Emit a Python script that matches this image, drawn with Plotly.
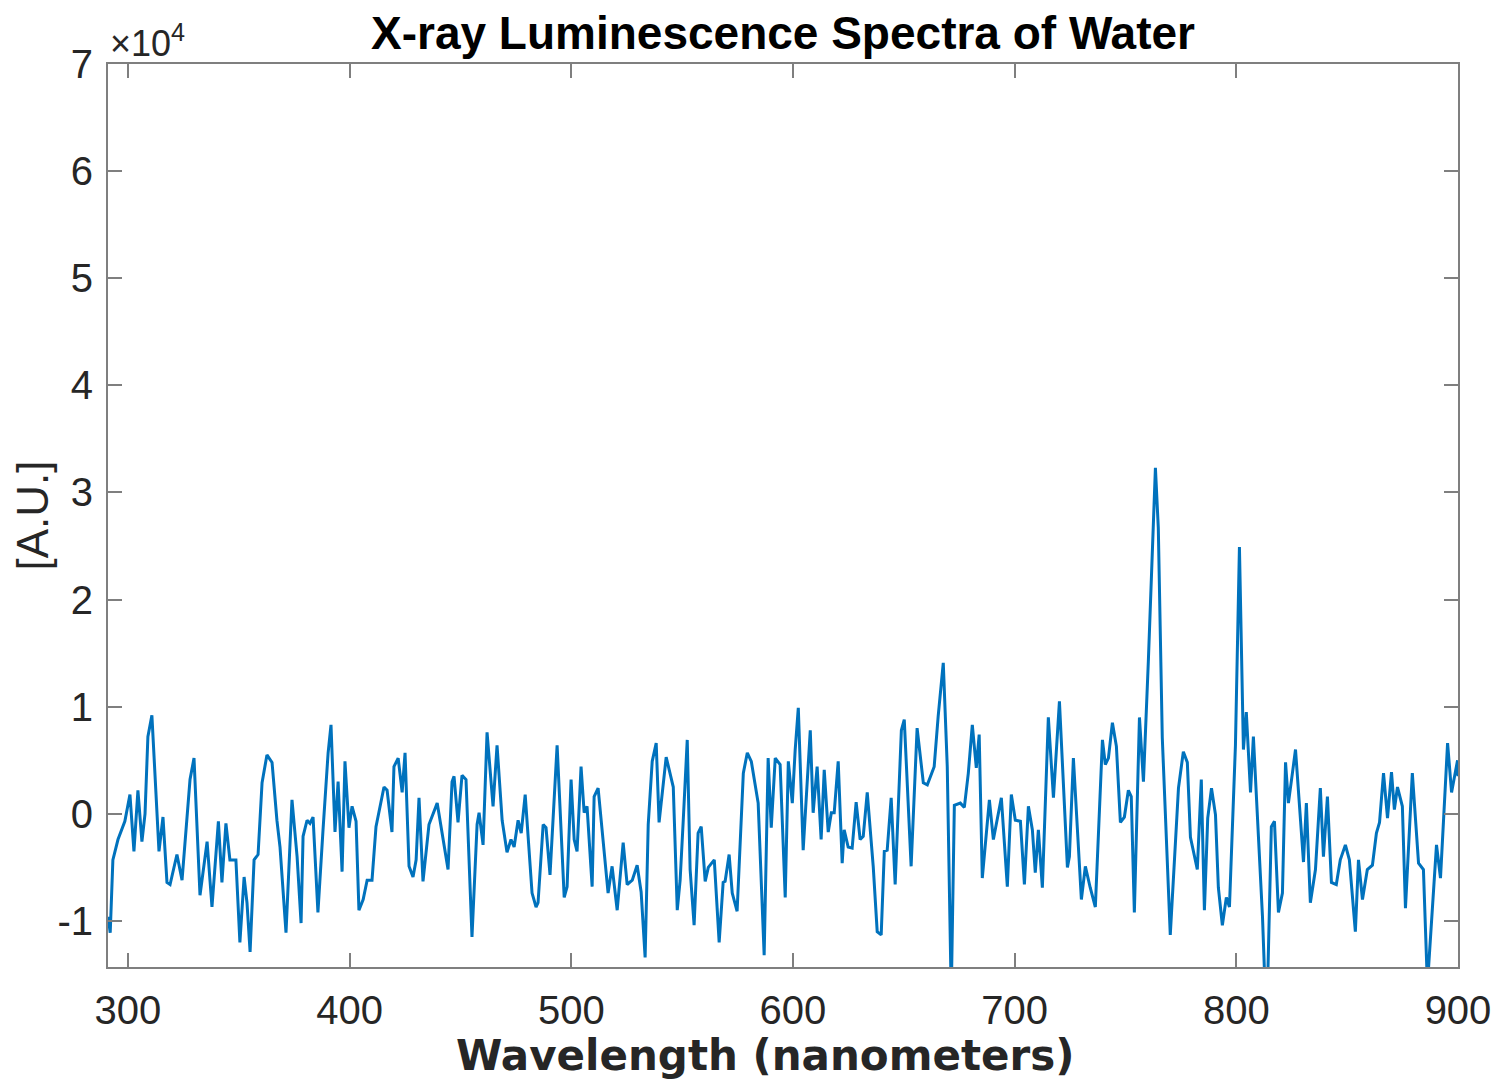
import plotly.graph_objects as go

# Wavelength (nm)
wavelength = [
    291, 292, 293.2, 295.5, 298.6, 300.9, 302.7, 304.5, 306.3, 307.7, 309.0, 310.8, 314.0, 315.8, 317.6, 319.0,
    322.1, 324.4, 328.0, 329.8, 332.5, 335.7, 337.9, 340.8, 342.4, 344.2, 346.0, 348.7, 350.5, 352.4, 353.7,
    355.1, 356.9, 358.7, 360.5, 362.7, 365.0, 367.2, 368.6, 371.3, 374.0, 376.3, 378.1, 379.0, 380.8, 382.1,
    383.5, 385.7, 388.0, 390.3, 391.6, 393.4, 394.8, 396.6, 397.9, 399.7, 401.1, 402.9, 404.2, 406.1, 407.9,
    410.1, 411.9, 415.5, 416.9, 419.1, 420.0, 421.9, 423.7, 425.0, 426.8, 428.6, 430.0, 431.3, 433.1, 435.8,
    439.5, 442.2, 444.4, 446.2, 447.1, 448.9, 450.7, 452.5, 455.2, 457.5, 458.4, 460.2, 462.0, 464.7, 466.5,
    468.8, 471.0, 472.8, 474.2, 476.0, 477.4, 479.2, 481.4, 482.3, 484.1, 485.0, 487.3, 488.6, 490.4, 493.6,
    496.8, 498.1, 499.9, 501.3, 502.6, 504.4, 505.8, 507.1, 509.4, 510.3, 512.1, 514.4, 516.6, 518.4, 520.7,
    523.4, 525.2, 527.5, 529.7, 531.5, 533.3, 534.7, 536.5, 538.3, 539.6, 542.8, 546.0, 547.8, 549.1, 550.5,
    552.3, 553.6, 555.4, 557.2, 558.6, 560.4, 561.8, 564.5, 566.7, 568.5, 569.4, 571.2, 572.6, 574.8, 577.6,
    579.4, 581.2, 584.3, 587.0, 588.8, 590.2, 592.0, 594.2, 596.5, 597.9, 599.7, 601.0, 602.4, 604.6, 607.8,
    609.1, 610.9, 612.7, 614.1, 615.9, 617.3, 618.6, 620.4, 622.2, 623.1, 624.9, 626.7, 628.5, 630.3, 631.7,
    633.5, 636.2, 638.0, 639.8, 641.2, 642.5, 644.3, 646.1, 648.9, 650.2, 653.3, 656.0, 658.8, 660.6, 663.7,
    665.5, 667.8, 669.6, 671.4, 672.8, 675.5, 677.3, 679.1, 680.9, 682.7, 684.0, 685.4, 688.6, 690.4, 694.0,
    696.7, 698.5, 700.3, 702.6, 704.4, 706.2, 708.0, 709.3, 710.7, 712.5, 715.2, 717.5, 720.2, 723.8, 724.7,
    726.5, 730.1, 731.9, 734.1, 736.4, 739.6, 740.9, 742.3, 744.1, 745.9, 747.7, 749.5, 751.3, 752.6, 754.0,
    756.3, 758.1, 760.3, 763.5, 764.8, 766.6, 770.2, 773.9, 776.1, 777.9, 779.3, 782.4, 784.2, 785.6, 787.1,
    788.8, 790.6, 791.9, 793.7, 795.5, 796.9, 799.6, 801.4, 803.2, 804.5, 806.4, 807.7, 811.8, 813.1, 814.0,
    815.8, 817.2, 819.0, 820.8, 822.2, 823.5, 825.3, 826.7, 830.3, 831.6, 833.4, 835.7, 837.9, 839.3, 841.1,
    842.9, 845.1, 846.9, 849.2, 851.0, 853.7, 855.1, 856.9, 859.1, 861.4, 863.2, 864.6, 866.4, 868.2, 870.0,
    871.3, 872.7, 874.9, 876.3, 879.4, 882.2, 884.4, 886.2, 890.3, 892.1, 895.3, 897.1, 899.8, 900.0,
]

# Intensity in units of 1e4 A.U.
intensity_e4 = [
    -0.96, -1.11, -0.43, -0.24, -0.07, 0.18, -0.35, 0.22, -0.26, 0.0, 0.72, 0.92, -0.35, -0.03, -0.64, -0.66,
    -0.38, -0.62, 0.32, 0.52, -0.76, -0.26, -0.87, -0.07, -0.64, -0.09, -0.43, -0.43, -1.2, -0.59, -0.83,
    -1.29, -0.43, -0.38, 0.29, 0.55, 0.48, -0.06, -0.31, -1.11, 0.13, -0.4, -1.02, -0.21, -0.06, -0.09,
    -0.03, -0.92, -0.15, 0.57, 0.83, -0.17, 0.3, -0.54, 0.49, -0.13, 0.07, -0.07, -0.9, -0.8, -0.62,
    -0.62, -0.12, 0.25, 0.22, -0.17, 0.44, 0.52, 0.2, 0.57, -0.49, -0.59, -0.43, 0.15, -0.63, -0.1,
    0.1, -0.24, -0.52, 0.3, 0.35, -0.08, 0.36, 0.32, -1.15, -0.1, 0.01, -0.29, 0.76, 0.07, 0.64,
    -0.06, -0.36, -0.24, -0.31, -0.06, -0.18, 0.18, -0.52, -0.74, -0.87, -0.83, -0.1, -0.13, -0.57, 0.64,
    -0.78, -0.68, 0.32, -0.24, -0.35, 0.44, 0.01, 0.07, -0.68, 0.16, 0.24, -0.27, -0.74, -0.49, -0.9,
    -0.27, -0.66, -0.62, -0.48, -0.73, -1.34, -0.1, 0.49, 0.66, -0.08, 0.53, 0.25, -0.9, -0.62, -0.06,
    0.69, -0.52, -1.04, -0.18, -0.12, -0.63, -0.5, -0.43, -1.2, -0.64, -0.63, -0.38, -0.74, -0.91, 0.38,
    0.57, 0.49, 0.1, -1.32, 0.52, -0.13, 0.52, 0.46, -0.78, 0.49, 0.1, 0.6, 0.99, -0.34, 0.78,
    0.01, 0.44, -0.24, 0.41, -0.17, 0.01, 0.01, 0.49, -0.46, -0.15, -0.31, -0.32, 0.11, -0.24, -0.21,
    0.2, -0.49, -1.1, -1.13, -0.35, -0.34, 0.15, -0.66, 0.78, 0.88, -0.49, 0.8, 0.29, 0.27, 0.44,
    0.91, 1.41, 0.44, -1.7, 0.08, 0.1, 0.06, 0.38, 0.83, 0.43, 0.74, -0.6, 0.13, -0.24, 0.15,
    -0.68, 0.18, -0.06, -0.07, -0.66, 0.07, -0.15, -0.55, -0.15, -0.69, 0.9, 0.15, 1.05, -0.5, -0.4,
    0.52, -0.8, -0.49, -0.69, -0.87, 0.69, 0.46, 0.52, 0.85, 0.63, -0.08, -0.03, 0.22, 0.16, -0.92,
    0.9, 0.3, 1.42, 3.23, 2.67, 0.71, -1.13, 0.24, 0.58, 0.48, -0.22, -0.52, 0.32, -0.9, -0.04,
    0.24, -0.01, -0.69, -1.04, -0.78, -0.87, 0.64, 2.49, 0.6, 0.95, 0.2, 0.72, -0.96, -1.7, -1.7,
    -0.12, -0.07, -0.92, -0.74, 0.48, 0.1, 0.38, 0.6, -0.45, 0.1, -0.83, -0.52, 0.24, -0.4, 0.16,
    -0.64, -0.66, -0.43, -0.29, -0.43, -1.1, -0.43, -0.8, -0.52, -0.48, -0.18, -0.08, 0.38, -0.04, 0.39,
    0.04, 0.25, 0.07, -0.88, 0.38, -0.46, -0.52, -1.6, -0.29, -0.6, 0.66, 0.2, 0.5, 0.35,
]

intensity = [v * 1e4 for v in intensity_e4]

x_ticks = [300, 400, 500, 600, 700, 800, 900]
y_ticks = [-10000, 0, 10000, 20000, 30000, 40000, 50000, 60000, 70000]
y_tick_text = ["-1", "0", "1", "2", "3", "4", "5", "6", "7"]

title_text = "X-ray Luminescence Spectra of Water"
x_label = "Wavelength (nanometers)"
y_label = "[A.U.]"

axis_color = "#262626"
frame_color = "#7f7f7f"
font_family = "Liberation Sans, Arial, sans-serif"

W, H = 1484, 1073
ML, MR, MT, MB = 100, 34, 56, 114

fig = go.Figure()
fig.add_trace(go.Scatter(
    x=wavelength, y=intensity, mode="lines",
    line=dict(color="#0072BD", width=3),
    showlegend=False,
))

fig.update_layout(
    width=W, height=H,
    paper_bgcolor="white", plot_bgcolor="white",
    margin=dict(l=ML, r=MR, t=MT, b=MB, autoexpand=False),
    font=dict(family=font_family, color=axis_color, size=40),
    title=dict(
        text="<b>" + title_text + "</b>",
        x=(ML + (W - MR)) / 2 / W, xanchor="center",
        y=1 - 25 / H, yanchor="middle",
        font=dict(size=46, color="black", family=font_family),
    ),
)

fig.update_xaxes(
    range=[291, 900],
    tickvals=x_ticks,
    ticks="inside", ticklen=14, tickwidth=2, tickcolor=frame_color,
    showline=True, linecolor=frame_color, linewidth=2, mirror="ticks",
    showgrid=False, zeroline=False, automargin=False,
    tickfont=dict(size=40, color=axis_color),
    ticklabelstandoff=7,
)

fig.update_yaxes(
    range=[-14300, 70000],
    tickvals=y_ticks, ticktext=y_tick_text,
    ticks="inside", ticklen=14, tickwidth=2, tickcolor=frame_color,
    showline=True, linecolor=frame_color, linewidth=2, mirror="ticks",
    showgrid=False, zeroline=False, automargin=False,
    tickfont=dict(size=40, color=axis_color),
    ticklabelstandoff=5,
    title=dict(text=y_label, font=dict(size=44, color=axis_color), standoff=22),
)

# x-axis label (slightly left of centre, as in the original)
fig.add_annotation(
    xref="paper", yref="paper", x=(757 - ML) / (W - ML - MR), y=0,
    xanchor="center", yanchor="top", yshift=-62,
    text="<b>" + x_label + "</b>", showarrow=False,
    font=dict(size=42, color=axis_color, family="DejaVu Sans, sans-serif"),
)

fig.add_annotation(
    xref="paper", yref="paper", x=0, y=1, xanchor="left", yanchor="bottom",
    text="×10<sup>4</sup>", showarrow=False,
    font=dict(size=36, color=axis_color, family=font_family),
    yshift=-2,
)

fig.write_html("out.html")
